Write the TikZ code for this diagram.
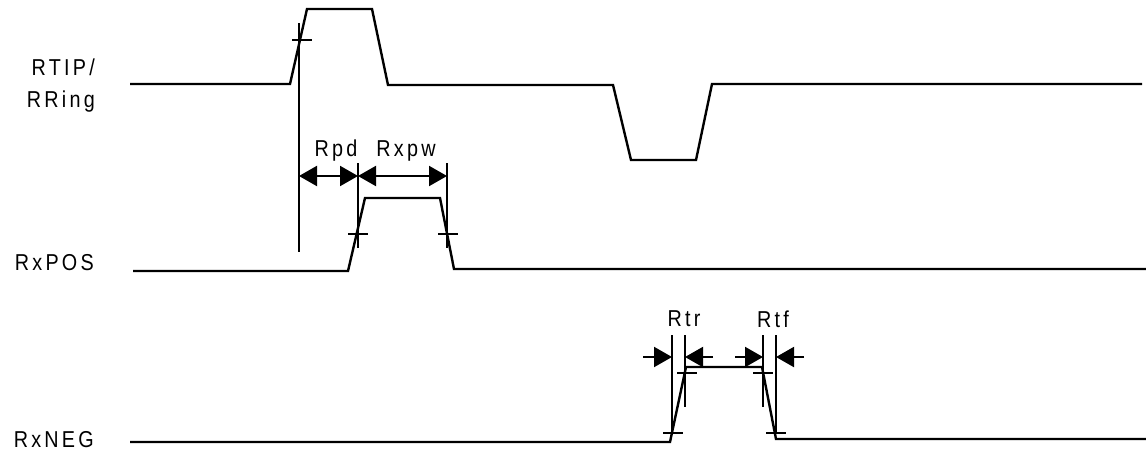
\documentclass[tikz,border=0pt]{standalone}
\usepackage{fontspec}
\setmainfont{Liberation Sans}[LetterSpace=14,FakeStretch=0.86]
\usetikzlibrary{arrows.meta}
\begin{document}
\begin{tikzpicture}[x=1pt,y=-1pt,
  wave/.style={line width=2.4pt, line join=miter},
  guide/.style={line width=2pt},
  tickln/.style={line width=2pt},
  dimarrow/.style={line width=2pt, -{Triangle[length=18pt,width=20pt]}},
  dimboth/.style={line width=2pt, {Triangle[length=18pt,width=20pt]}-{Triangle[length=18pt,width=20pt]}},
  sig/.style={font=\fontsize{23}{32}\selectfont, anchor=east, align=right, inner sep=0pt},
  lab/.style={font=\fontsize{23}{24}\selectfont, inner sep=0pt}]
\useasboundingbox (0,0) rectangle (1146,453);

% labels
\node[sig] (ltip) at (95,86) {RTIP/\\RRing};
\node[sig] (lpos) at (94,263) {RxPOS};
\node[sig] (lneg) at (94,440) {RxNEG};

% waveforms
\draw[wave] (130,84) -- (290,84) -- (307,9) -- (372,9) -- (388,85) -- (613,85)
  -- (631,160) -- (696,160) -- (712,84) -- (1142,84);
\draw[wave] (133,271) -- (348,271) -- (365,198) -- (440,198) -- (454,269) -- (1146,269);
\draw[wave] (130,442) -- (670,442) -- (686,367) -- (762,367) -- (776,439) -- (1146,439);

% RTIP crossing and guide
\draw[tickln] (292,40) -- (312,40);
\coordinate (g1t) at (299,23);
\coordinate (g1b) at (299,252);
\draw[guide] (g1t) -- (g1b);

% RxPOS crossings and guides
\draw[tickln] (348,234) -- (368,234);
\draw[tickln] (438,234) -- (458,234);
\coordinate (g2t) at (358,163);
\coordinate (g2b) at (358,248);
\coordinate (g3t) at (447,163);
\coordinate (g3b) at (447,248);
\draw[guide] (g2t) -- (g2b);
\draw[guide] (g3t) -- (g3b);

\coordinate (a1) at (299,176);
\coordinate (a2) at (358,176);
\coordinate (a3) at (447,176);
\draw[dimboth] (a1) -- (a2);
\draw[dimboth] (a2) -- (a3);
\node[lab] (rpd) at (336,151) {Rpd};
\node[lab] (rxpw) at (406,151) {Rxpw};

% RxNEG crossings and guides
\draw[tickln] (663,433) -- (683,433);
\draw[tickln] (677,373) -- (697,373);
\draw[tickln] (753,373) -- (773,373);
\draw[tickln] (766,433) -- (786,433);
\coordinate (h1t) at (672,335);
\coordinate (h1b) at (672,434);
\coordinate (h2t) at (685,335);
\coordinate (h2b) at (685,407);
\coordinate (h3t) at (763,335);
\coordinate (h3b) at (763,407);
\coordinate (h4t) at (776,335);
\coordinate (h4b) at (776,434);
\draw[guide] (h1t) -- (h1b);
\draw[guide] (h2t) -- (h2b);
\draw[guide] (h3t) -- (h3b);
\draw[guide] (h4t) -- (h4b);

\coordinate (b1s) at (643,357);
\coordinate (b1e) at (672,357);
\coordinate (b2s) at (713,357);
\coordinate (b2e) at (685,357);
\coordinate (b3s) at (735,357);
\coordinate (b3e) at (763,357);
\coordinate (b4s) at (804,357);
\coordinate (b4e) at (776,357);
\draw[dimarrow] (b1s) -- (b1e);
\draw[dimarrow] (b2s) -- (b2e);
\draw[dimarrow] (b3s) -- (b3e);
\draw[dimarrow] (b4s) -- (b4e);
\node[lab] (rtr) at (684,319) {Rtr};
\node[lab] (rtf) at (773,319) {Rtf};
\end{tikzpicture}
\end{document}
